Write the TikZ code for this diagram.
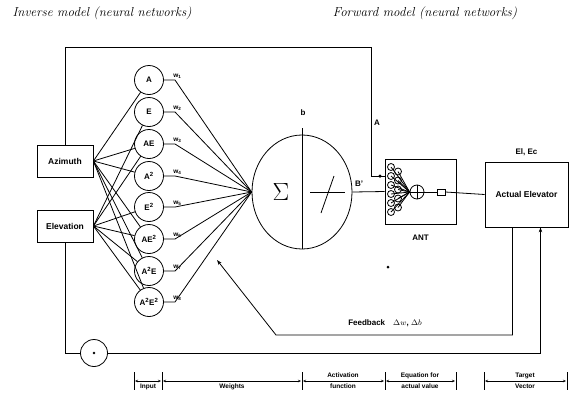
\documentclass[tikz,border=0pt]{standalone}
\usepackage{fontspec}
\setsansfont{Liberation Sans}
\usetikzlibrary{arrows.meta,positioning,shapes.geometric}

\begin{document}
\begin{tikzpicture}[
    x=1pt, y=-1pt, line width=0.8pt,
    font=\sffamily\bfseries\fontsize{8}{9.6}\selectfont,
    block/.style={rectangle, draw=black, minimum width=56pt, minimum height=32pt, inner sep=1pt, font=\sffamily\bfseries\fontsize{8.5}{10}\selectfont},
    neuron/.style={circle, draw=black, minimum size=29pt, inner sep=0pt},
    weight/.style={anchor=south west, inner sep=1pt, font=\sffamily\bfseries\fontsize{6.5}{7}\selectfont},
    title/.style={font=\itshape\fontsize{13}{15}\selectfont},
    tag/.style={align=center, inner sep=0pt, font=\sffamily\bfseries\fontsize{6.5}{11}\selectfont},
    arrow/.style={->, >={Stealth[length=5pt,width=3.5pt]}},
    dim/.style={<->, >={Stealth[length=3pt,width=2.5pt]}, shorten <=1pt, shorten >=1pt}
]
\useasboundingbox (0,0) rectangle (571,392);

\node (invtitle) [title] at (102,13) {Inverse model (neural networks)};
\node (fwdtitle) [title] at (425,13) {Forward model (neural networks)};

\node (azim) [block] at (65,161) {Azimuth};
\node (elev) [block] at (65,226) {Elevation};

\node (n1) [neuron] at (149,80) {A};
\node (n2) [neuron] at (149,112) {E};
\node (n3) [neuron] at (149,144) {AE};
\node (n4) [neuron] at (149,176) {A\textsuperscript{2}};
\node (n5) [neuron] at (149,207) {E\textsuperscript{2}};
\node (n6) [neuron] at (149,239) {AE\textsuperscript{2}};
\node (n7) [neuron] at (149,271) {A\textsuperscript{2}E};
\node (n8) [neuron] at (149,302) {A\textsuperscript{2}E\textsuperscript{2}};

\draw (azim.east) -- (n1);
\draw (azim.east) -- (n3);
\draw (azim.east) -- (n4);
\draw (azim.east) -- (n6);
\draw (azim.east) -- (n7);
\draw (azim.east) -- (n8);
\draw (elev.east) -- (n2);
\draw (elev.east) -- (n3);
\draw (elev.east) -- (n5);
\draw (elev.east) -- (n6);
\draw (elev.east) -- (n7);
\draw (elev.east) -- (n8);

\node (sum) [ellipse, draw=black, minimum width=100pt, minimum height=114pt] at (302,192) {};
\node (sigma) at (281,192) {\fontsize{50}{50}\selectfont$\Sigma$};
\draw (sum.south) -- ([yshift=7pt]sum.north);
\node (bias) at (303,113) {b};
\draw (310,192) -- (345,192);
\draw (321,213) -- (334,176);

\coordinate (k1) at (175,80);
\coordinate (k2) at (175,112);
\coordinate (k3) at (175,144);
\coordinate (k4) at (175,176);
\coordinate (k5) at (175,207);
\coordinate (k6) at (175,239);
\coordinate (k7) at (175,271);
\coordinate (k8) at (175,302);
\draw (n1.east) -- (k1) -- (sum.west);
\draw (n2.east) -- (k2) -- (sum.west);
\draw (n3.east) -- (k3) -- (sum.west);
\draw (n4.east) -- (k4) -- (sum.west);
\draw (n5.east) -- (k5) -- (sum.west);
\draw (n6.east) -- (k6) -- (sum.west);
\draw (n7.east) -- (k7) -- (sum.west);
\draw (n8.east) -- (k8) -- (sum.west);
\node (w1) [weight] at ([xshift=-3pt]k1) {w\textsubscript{1}};
\node (w2) [weight] at ([xshift=-3pt]k2) {w\textsubscript{2}};
\node (w3) [weight] at ([xshift=-3pt]k3) {w\textsubscript{3}};
\node (w4) [weight] at ([xshift=-3pt]k4) {w\textsubscript{4}};
\node (w5) [weight] at ([xshift=-3pt]k5) {w\textsubscript{5}};
\node (w6) [weight] at ([xshift=-3pt]k6) {w\textsubscript{6}};
\node (w7) [weight] at ([xshift=-3pt]k7) {w\textsubscript{7}};
\node (w8) [weight] at ([xshift=-3pt]k8) {w\textsubscript{8}};

\node (ant) [rectangle, draw=black, minimum width=71pt, minimum height=65pt] at (420.5,191.5) {};
\node (antlabel) [below=7pt of ant] {ANT};
\node (antsum) [circle, draw=black, minimum size=14pt, inner sep=0pt] at (417,192) {};
\draw (antsum.north) -- (antsum.south);
\draw (antsum.west) -- (antsum.east);
\node (antout) [rectangle, draw=black, minimum width=8pt, minimum height=6pt, inner sep=0pt] at (441,192) {};
\foreach \yy in {167,176,...,212} {
    \draw (391,\yy) circle (3.5pt);
    \draw (391,\yy) -- (antsum.west);
}
\foreach \yy in {171.5,180.5,...,207.5} {
    \draw (398,\yy) circle (3.5pt);
    \draw (398,\yy) -- (antsum.west);
}

\node (act) [block, minimum width=83pt, minimum height=65pt] at (526.5,194.5) {Actual Elevator};
\node (elabel) [above=2pt of act] {El, Ec};

\node (bout) at (359,184) {B'};
\draw (sum.east) -- (ant.west);
\draw (antsum.east) -- (antout.west);
\draw (antout.east) -- (act.west);

\coordinate (aturn) at (371,47);
\coordinate (antin) at (385,176);
\draw (azim.north) |- (aturn) |- (antin);
\node (adot) [circle, fill=black, inner sep=0pt, minimum size=3.5pt] at (380,176) {};
\node (alabel) at (377,123) {A};

\node (cmp) [circle, draw=black, minimum size=27pt, inner sep=0pt] at (94,353) {};
\fill (cmp.center) circle (1.3pt);
\draw (elev.south) |- (cmp.west);
\draw [arrow] (cmp.east) -| ([xshift=14pt]act.south);

\coordinate (fbturn) at (276,335);
\coordinate (fbtip) at (217,260);
\draw [arrow] ([xshift=-14pt]act.south) |- (fbturn) -- (fbtip);
\node (fblabel) at (385,323) {Feedback\quad $\Delta w$, $\Delta b$};
\node (spot) [circle, fill=black, inner sep=0pt, minimum size=3pt] at (388,267) {};

\coordinate (d0) at (134,381);
\coordinate (d1) at (162,381);
\coordinate (d2) at (302,381);
\coordinate (d3) at (385,381);
\coordinate (d4) at (456,381);
\coordinate (d5) at (484,381);
\coordinate (d6) at (567,381);
\foreach \d in {d0,d1,d2,d3,d4,d5,d6} {
    \draw ([yshift=9pt]\d) -- ([yshift=-9pt]\d);
}
\draw [dim] (d0) -- (d1);
\draw [dim] (d1) -- (d2);
\draw [dim] (d2) -- (d3);
\draw [dim] (d3) -- (d4);
\draw [dim] (d5) -- (d6);
\node (inputtag) [tag] at (148,387) {Input};
\node (weighttag) [tag] at (232,387) {Weights};
\node (acttag) [tag] at (343,381) {Activation\\function};
\node (eqtag) [tag] at (420,381) {Equation for\\actual value};
\node (targettag) [tag] at (525,381) {Target\\Vector};

\end{tikzpicture}
\end{document}
